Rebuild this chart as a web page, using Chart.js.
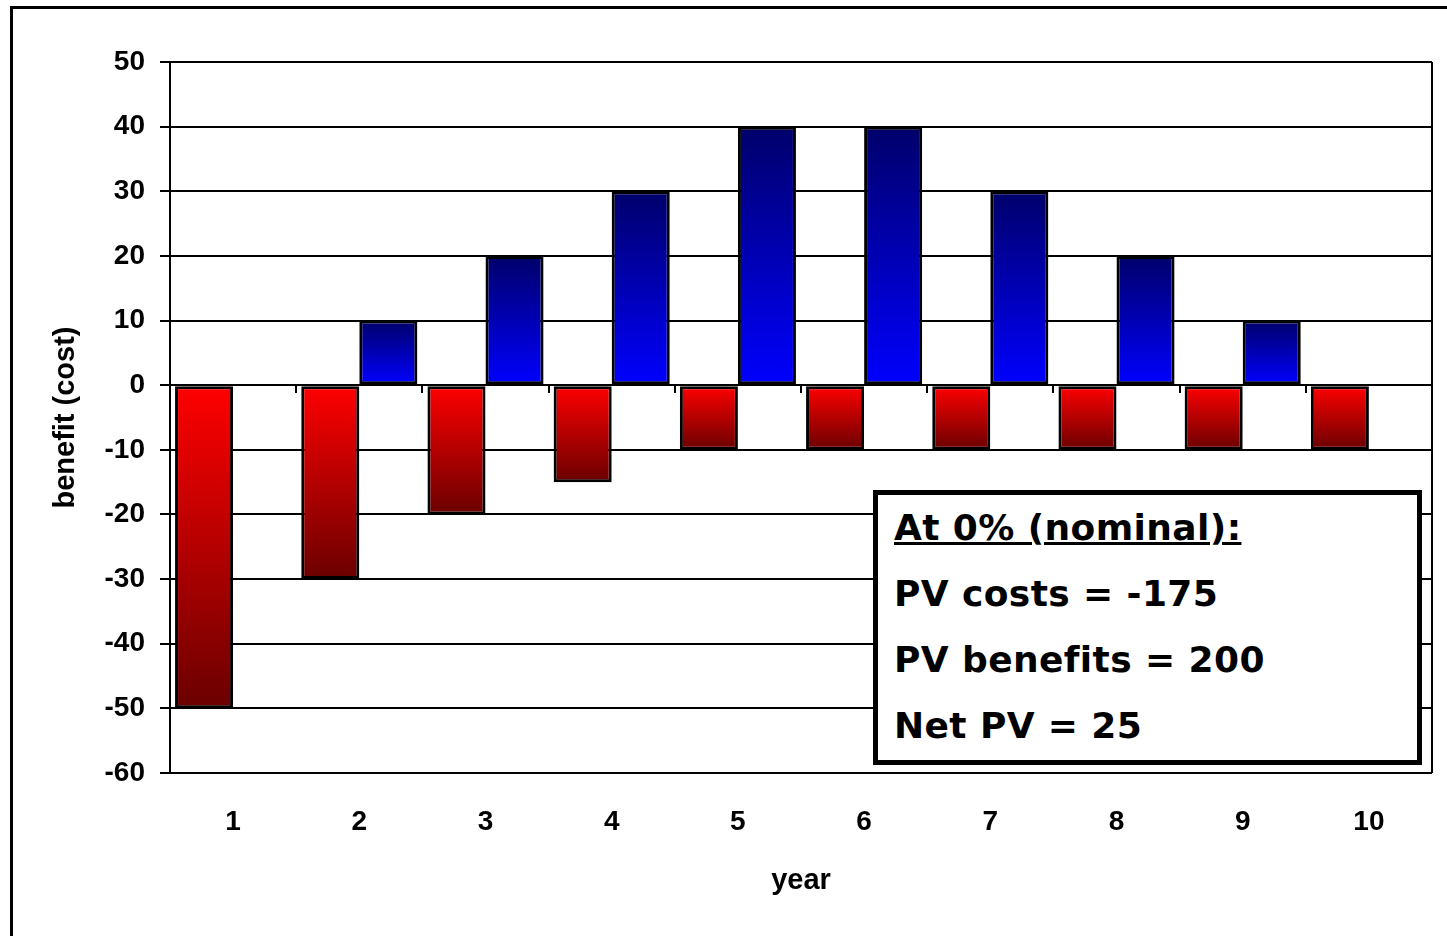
<!DOCTYPE html>
<html>
<head>
<meta charset="utf-8">
<script src="https://cdn.jsdelivr.net/npm/chart.js@4"></script>
<style>
  html, body { margin: 0; padding: 0; background: #fff; overflow: hidden; width: 1447px; height: 936px; }
  #wrap { position: relative; width: 1447px; height: 936px; }
  #c { position: absolute; left: 0; top: 0; }
  #frame { position: absolute; left: 10px; top: 6px; width: 1500px; height: 1000px; border: 3px solid #000; box-sizing: border-box; pointer-events: none; }
  #note { position: absolute; left: 873px; top: 490px; width: 549px; height: 275px; box-sizing: border-box;
          border: 5px solid #000; background: #fff; padding: 0 0 0 16px;
          font-family: "DejaVu Sans", Verdana, sans-serif; font-weight: bold; font-size: 36px; letter-spacing: 0.4px; color: #000; }
  #note div { line-height: 66px; white-space: nowrap; }
  #note .u { text-decoration: underline; text-decoration-thickness: 3px; text-underline-offset: 2px; }
</style>
</head>
<body>
<div id="wrap">
  <canvas id="c" width="1447" height="936" style="width:1447px;height:936px"></canvas>
  <div id="frame"></div>
  <div id="note">
    <div class="u">At 0% (nominal):</div>
    <div>PV costs = -175</div>
    <div>PV benefits = 200</div>
    <div>Net PV = 25</div>
  </div>
</div>
<script>
const years = ['1', '2', '3', '4', '5', '6', '7', '8', '9', '10'];
const costs = [-50, -30, -20, -15, -10, -10, -10, -10, -10, -10];
const benefits = [0, 10, 20, 30, 40, 40, 30, 20, 10, 0];
const yTicks = { min: -60, max: 50, step: 10 };
const yTitle = 'benefit (cost)';
const xTitle = 'year';

function barGradient(bright, dark) {
  return function (ctx) {
    const chart = ctx.chart;
    if (ctx.type !== 'data' || !chart.chartArea || !chart.scales.y) return bright;
    const ys = chart.scales.y;
    const p0 = ys.getPixelForValue(0);
    const p1 = ys.getPixelForValue(ctx.raw);
    if (!isFinite(p0) || !isFinite(p1) || Math.abs(p1 - p0) < 1) return bright;
    const g = chart.ctx.createLinearGradient(0, p0, 0, p1);
    g.addColorStop(0, bright);
    g.addColorStop(1, dark);
    return g;
  };
}

const frameBorder = {
  id: 'frameBorder',
  afterDatasetsDraw(chart) {
    const { ctx, chartArea: a } = chart;
    ctx.save();
    ctx.strokeStyle = '#000';
    ctx.lineWidth = 2;
    ctx.beginPath();
    ctx.moveTo(a.right, a.top);
    ctx.lineTo(a.right, a.bottom);
    ctx.stroke();
    ctx.restore();
  }
};

const tickFont = { family: '"Liberation Sans", Arial, sans-serif', size: 28, weight: 'bold' };
const titleFont = { family: '"Liberation Sans", Arial, sans-serif', size: 29, weight: 'bold' };

new Chart(document.getElementById('c'), {
  type: 'bar',
  data: {
    labels: years,
    datasets: [
      {
        label: 'cost',
        data: costs,
        backgroundColor: barGradient('#ff0000', '#6a0000'),
        borderColor: '#000',
        borderWidth: 3,
        borderSkipped: false
      },
      {
        label: 'benefit',
        data: benefits,
        backgroundColor: barGradient('#0000ff', '#00006a'),
        borderColor: '#000',
        borderWidth: 3,
        borderSkipped: false
      }
    ]
  },
  options: {
    responsive: false,
    animation: false,
    devicePixelRatio: 1,
    layout: { padding: { left: 40, top: 62, right: 15, bottom: 30 } },
    datasets: { bar: { categoryPercentage: 0.92, barPercentage: 1.0 } },
    plugins: { legend: { display: false }, tooltip: { enabled: false } },
    scales: {
      x: {
        type: 'category',
        position: 'bottom',
        offset: true,
        grid: { display: false, drawTicks: false, offset: true },
        border: { display: false },
        ticks: { color: '#000', font: tickFont, padding: 32, maxRotation: 0 },
        title: { display: true, text: xTitle, color: '#000', font: titleFont, padding: { top: 8, bottom: 8 } },
        afterFit(s) { s.height = 133; }
      },
      x0: {
        type: 'category',
        labels: years,
        position: { y: 0 },
        offset: true,
        grid: { display: true, drawOnChartArea: false, drawTicks: true, tickLength: 8, color: '#000', lineWidth: 2, offset: true },
        border: { display: false },
        ticks: { display: false }
      },
      y: {
        type: 'linear',
        min: yTicks.min,
        max: yTicks.max,
        ticks: { stepSize: yTicks.step, color: '#000', font: tickFont, padding: 15 },
        grid: { color: '#000', lineWidth: 2, tickLength: 10, drawTicks: true },
        border: { display: true, color: '#000', width: 2 },
        title: { display: true, text: yTitle, color: '#000', font: titleFont, padding: { top: 9, bottom: 9 } },
        afterFit(s) { s.width = 130; }
      }
    }
  },
  plugins: [frameBorder]
});
</script>
</body>
</html>
